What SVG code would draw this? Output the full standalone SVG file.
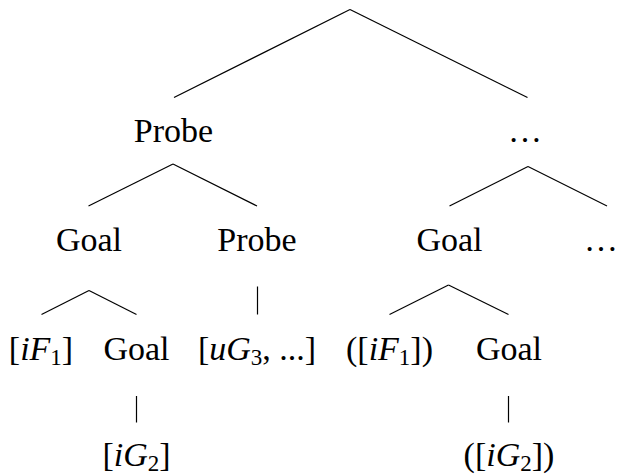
<svg xmlns="http://www.w3.org/2000/svg" width="617" height="476" viewBox="0 0 617 476">
<style>
text{font-family:"Liberation Serif","Times New Roman",serif;font-size:34px;fill:#000;text-anchor:middle}
.i{font-style:italic}
.s{font-size:23px}
line{stroke:#000;stroke-width:1.2;fill:none}
</style>
<rect width="617" height="476" fill="#fff"/>
<g id="connectors">
<line x1="350" y1="9.5" x2="174" y2="97.5"/>
<line x1="350" y1="9.5" x2="527.5" y2="97.5"/>
<line x1="173" y1="164" x2="88.5" y2="206"/>
<line x1="173" y1="164" x2="257" y2="206"/>
<line x1="528" y1="166.5" x2="449.5" y2="206"/>
<line x1="528" y1="166.5" x2="607" y2="206"/>
<line x1="89" y1="290.5" x2="41.5" y2="314.5"/>
<line x1="89" y1="290.5" x2="136.5" y2="314.5"/>
<line x1="257.5" y1="286.5" x2="257.5" y2="314.5"/>
<line x1="448.5" y1="285" x2="389.5" y2="314.5"/>
<line x1="448.5" y1="285" x2="508.5" y2="314.5"/>
<line x1="136.5" y1="396" x2="136.5" y2="422.5"/>
<line x1="508.5" y1="396" x2="508.5" y2="422.5"/>
</g>
<g id="n-probe1"><text x="173.5" y="142">Probe</text></g>
<g id="n-dots1"><text x="525" y="142">…</text></g>
<g id="n-goal1"><text x="89" y="251">Goal</text></g>
<g id="n-probe2"><text x="257" y="251">Probe</text></g>
<g id="n-goal2"><text x="449.5" y="251">Goal</text></g>
<g id="n-dots2"><text x="601" y="251">…</text></g>
<g id="n-iF1"><text x="41" y="360">[<tspan class="i">iF</tspan><tspan class="s" dy="5">1</tspan><tspan dy="-5">]</tspan></text></g>
<g id="n-goal3"><text x="136.5" y="360">Goal</text></g>
<g id="n-uG3"><text x="257" y="360">[<tspan class="i">uG</tspan><tspan class="s" dy="5">3</tspan><tspan dy="-5">, ...]</tspan></text></g>
<g id="n-iF1b"><text x="389.5" y="360">([<tspan class="i">iF</tspan><tspan class="s" dy="5">1</tspan><tspan dy="-5">])</tspan></text></g>
<g id="n-goal4"><text x="509" y="360">Goal</text></g>
<g id="n-iG2"><text x="136.5" y="466">[<tspan class="i">iG</tspan><tspan class="s" dy="5">2</tspan><tspan dy="-5">]</tspan></text></g>
<g id="n-iG2b"><text x="509" y="466">([<tspan class="i">iG</tspan><tspan class="s" dy="5">2</tspan><tspan dy="-5">])</tspan></text></g>
</svg>
